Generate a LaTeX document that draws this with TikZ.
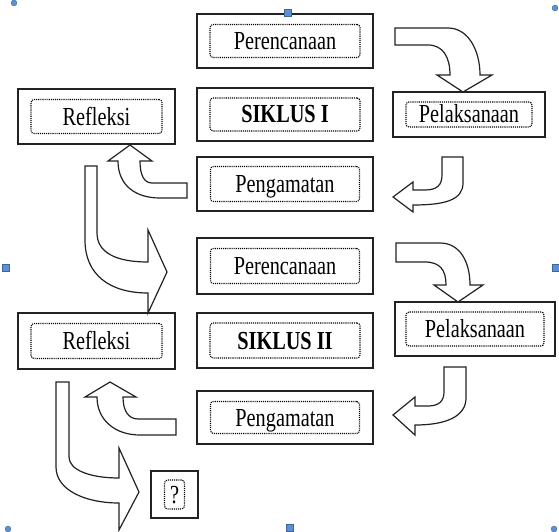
\documentclass[tikz,border=0pt]{standalone}
\usepackage{fontspec}
\setmainfont[FakeStretch=0.78]{Liberation Serif}

\definecolor{garis}{HTML}{222222}
\definecolor{pegangan}{HTML}{5B8FD8}

\tikzset{
    kotak/.style={draw=garis, line width=1.4pt, fill=white, inner sep=0pt},
    isi/.style={draw=black, dash pattern=on 1.1pt off 1pt, line width=1.1pt,
        rounded corners=3pt, inner sep=0pt, text height=17pt, text depth=0pt,
        font=\fontsize{26}{30}\selectfont},
    panah/.style={draw=garis, line width=1.2pt, fill=white, line join=miter},
    handle/.style={fill=pegangan, draw=pegangan!70!black, line width=0.3pt}
}

\begin{document}
\begin{tikzpicture}[x=1pt, y=-1pt]
            \useasboundingbox (0,0) rectangle (559,532);

            % siklus I
            \node[kotak, minimum width=176pt, minimum height=54pt] (ren1) at (285,41) {};
            \node[isi, minimum width=150pt, minimum height=33pt] (ren1t) at (ren1) {Perencanaan};

            \node[kotak, minimum width=176pt, minimum height=53pt] (sik1) at (285,114.5) {};
            \node[isi, minimum width=150pt, minimum height=33pt] (sik1t) at (sik1) {\bfseries SIKLUS I};

            \node[kotak, minimum width=176pt, minimum height=54pt] (amat1) at (285,184) {};
            \node[isi, minimum width=149pt, minimum height=35pt] (amat1t) at (amat1) {Pengamatan};

            \node[kotak, minimum width=157pt, minimum height=55pt] (ref1) at (96.5,116.5) {};
            \node[isi, minimum width=131pt, minimum height=34pt] (ref1t) at (ref1) {Refleksi};

            \node[kotak, minimum width=152pt, minimum height=45pt] (lak1) at (469,114.5) {};
            \node[isi, minimum width=126pt, minimum height=25pt] (lak1t) at (lak1) {Pelaksanaan};

            % siklus II
            \node[kotak, minimum width=176pt, minimum height=56pt] (ren2) at (285,266) {};
            \node[isi, minimum width=149pt, minimum height=35pt] (ren2t) at (ren2) {Perencanaan};

            \node[kotak, minimum width=176pt, minimum height=55pt] (sik2) at (285,340.5) {};
            \node[isi, minimum width=150pt, minimum height=35pt] (sik2t) at (sik2) {\bfseries SIKLUS II};

            \node[kotak, minimum width=176pt, minimum height=53pt] (amat2) at (285,417.5) {};
            \node[isi, minimum width=149pt, minimum height=32pt] (amat2t) at (amat2) {Pengamatan};

            \node[kotak, minimum width=157pt, minimum height=56pt] (ref2) at (96.5,341) {};
            \node[isi, minimum width=131pt, minimum height=35pt] (ref2t) at (ref2) {Refleksi};

            \node[kotak, minimum width=160pt, minimum height=54pt] (lak2) at (475,329) {};
            \node[isi, minimum width=138pt, minimum height=34pt] (lak2t) at (lak2) {Pelaksanaan};

            % tanya
            \node[kotak, minimum width=47pt, minimum height=47pt] (tanya) at (174.5,494.5) {};
            \node[isi, minimum width=20pt, minimum height=29pt] (tanyat) at (tanya) {?};

            % arrows siklus I
            \draw[panah] (395,28) -- (448,28) .. controls (468,28) and (480,50) .. (480,75)
                -- (492,75) -- (463,92) -- (437,75) -- (450,75)
                .. controls (450,57) and (443,45) .. (428,45) -- (395,45) -- cycle;
            \draw[panah] (463,157) -- (463,183) .. controls (463,200) and (445,205) .. (413,205)
                -- (413,212) -- (393,197) -- (413,182) -- (413,190)
                -- (425,190) .. controls (437,190) and (442,185) .. (442,175) -- (442,157) -- cycle;
            \draw[panah] (187,183) -- (152,183) .. controls (144,183) and (140,175) .. (140,161)
                -- (152,161) -- (130,145) -- (108,161) -- (118,161)
                .. controls (118,185) and (135,198) .. (160,198) -- (187,198) -- cycle;
            \draw[panah] (85,166) -- (85,240) .. controls (85,275) and (110,293) .. (148,293)
                -- (148,313) -- (167,272) -- (148,230) -- (148,262)
                .. controls (115,262) and (97,252) .. (97,233) -- (97,166) -- cycle;

            % arrows siklus II
            \draw[panah] (396,243) -- (440,243) .. controls (460,243) and (470,262) .. (470,285)
                -- (483,285) -- (458,302) -- (434,285) -- (446,285)
                .. controls (446,270) and (440,262) .. (425,262) -- (396,262) -- cycle;
            \draw[panah] (466,367) -- (466,398) .. controls (466,416) and (447,425) .. (415,425)
                -- (415,435) -- (393,415) -- (415,397) -- (415,406)
                -- (428,406) .. controls (439,406) and (444,401) .. (444,392) -- (444,367) -- cycle;
            \draw[panah] (176,419) -- (138,419) .. controls (128,419) and (123,410) .. (123,397)
                -- (136,397) -- (110,382) -- (85,397) -- (97,397)
                .. controls (97,420) and (115,435) .. (140,435) -- (176,435) -- cycle;
            \draw[panah] (56,382) -- (56,467) .. controls (56,490) and (85,503) .. (119,503)
                -- (119,530) -- (139,492) -- (119,448) -- (119,478)
                .. controls (90,478) and (69,470) .. (69,457) -- (69,382) -- cycle;

            % handles
            \foreach \x/\y in {288/13, 6/268, 556/268, 290/528}
                {
                    \filldraw[handle] (\x-3.5,\y-3.5) rectangle (\x+3.5,\y+3.5);
                }
            \foreach \x/\y in {14/3, 555/8, 8/529, 554/529}
                {
                    \filldraw[handle] (\x,\y) circle (3pt);
                }

        \end{tikzpicture}
\end{document}
